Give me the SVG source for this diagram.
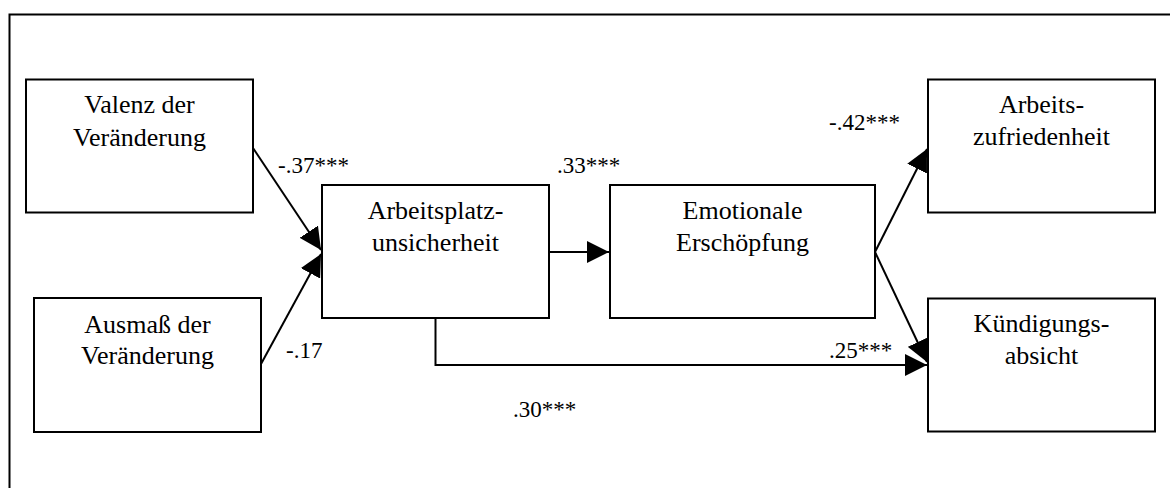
<svg xmlns="http://www.w3.org/2000/svg" width="1170" height="488" viewBox="0 0 1170 488">
<style>
.box{fill:#fff;stroke:#000;stroke-width:2}
.c{fill:none;stroke:#000;stroke-width:2}
</style>
<defs>
<marker id="ah" markerUnits="userSpaceOnUse" markerWidth="22" markerHeight="22" refX="20" refY="10" orient="auto" viewBox="0 0 20 20">
<path d="M0,0 L20,10 L0,20 Z" fill="#000"/>
</marker>
</defs>
<rect x="0" y="0" width="1170" height="488" fill="#fff"/>
<rect id="frame" x="9.5" y="14.5" width="1200" height="520" fill="none" stroke="#000" stroke-width="2"/>
<g font-family="Liberation Serif, serif" font-size="26" text-anchor="middle" fill="#000">
<g id="valenz">
<rect class="box" x="26" y="79.5" width="227" height="133"/>
<text x="139.5" y="113">Valenz der</text>
<text x="139.5" y="145.5">Veränderung</text>
</g>
<g id="ausmass">
<rect class="box" x="34" y="298" width="227" height="134"/>
<text x="147.5" y="332.5">Ausmaß der</text>
<text x="147.5" y="364">Veränderung</text>
</g>
<g id="arbeitsplatz">
<rect class="box" x="322" y="185" width="227" height="133"/>
<text x="435.5" y="219">Arbeitsplatz-</text>
<text x="435.5" y="251">unsicherheit</text>
</g>
<g id="emotionale">
<rect class="box" x="610" y="185" width="265" height="133"/>
<text x="742.5" y="219">Emotionale</text>
<text x="742.5" y="251">Erschöpfung</text>
</g>
<g id="zufriedenheit">
<rect class="box" x="928" y="79.5" width="227" height="133"/>
<text x="1041.5" y="113">Arbeits-</text>
<text x="1041.5" y="145">zufriedenheit</text>
</g>
<g id="kuendigung">
<rect class="box" x="928" y="298.5" width="227" height="133"/>
<text x="1041.5" y="331.5">Kündigungs-</text>
<text x="1041.5" y="363.5">absicht</text>
</g>
</g>
<g id="connectors">
<line class="c" x1="253" y1="148" x2="321" y2="250" marker-end="url(#ah)"/>
<line class="c" x1="261" y1="364" x2="321" y2="254" marker-end="url(#ah)"/>
<line class="c" x1="549" y1="252" x2="609" y2="252" marker-end="url(#ah)"/>
<polyline class="c" points="435.5,318 435.5,365 927,365" marker-end="url(#ah)"/>
<line class="c" x1="875" y1="252" x2="927" y2="149" marker-end="url(#ah)"/>
<line class="c" x1="875" y1="252" x2="927" y2="362" marker-end="url(#ah)"/>
</g>
<g id="labels" font-family="Liberation Serif, serif" font-size="23" fill="#000">
<text x="278" y="173">-.37***</text>
<text x="557" y="173">.33***</text>
<text x="829" y="130">-.42***</text>
<text x="286" y="358">-.17</text>
<text x="829" y="358">.25***</text>
<text x="513" y="417">.30***</text>
</g>
</svg>
